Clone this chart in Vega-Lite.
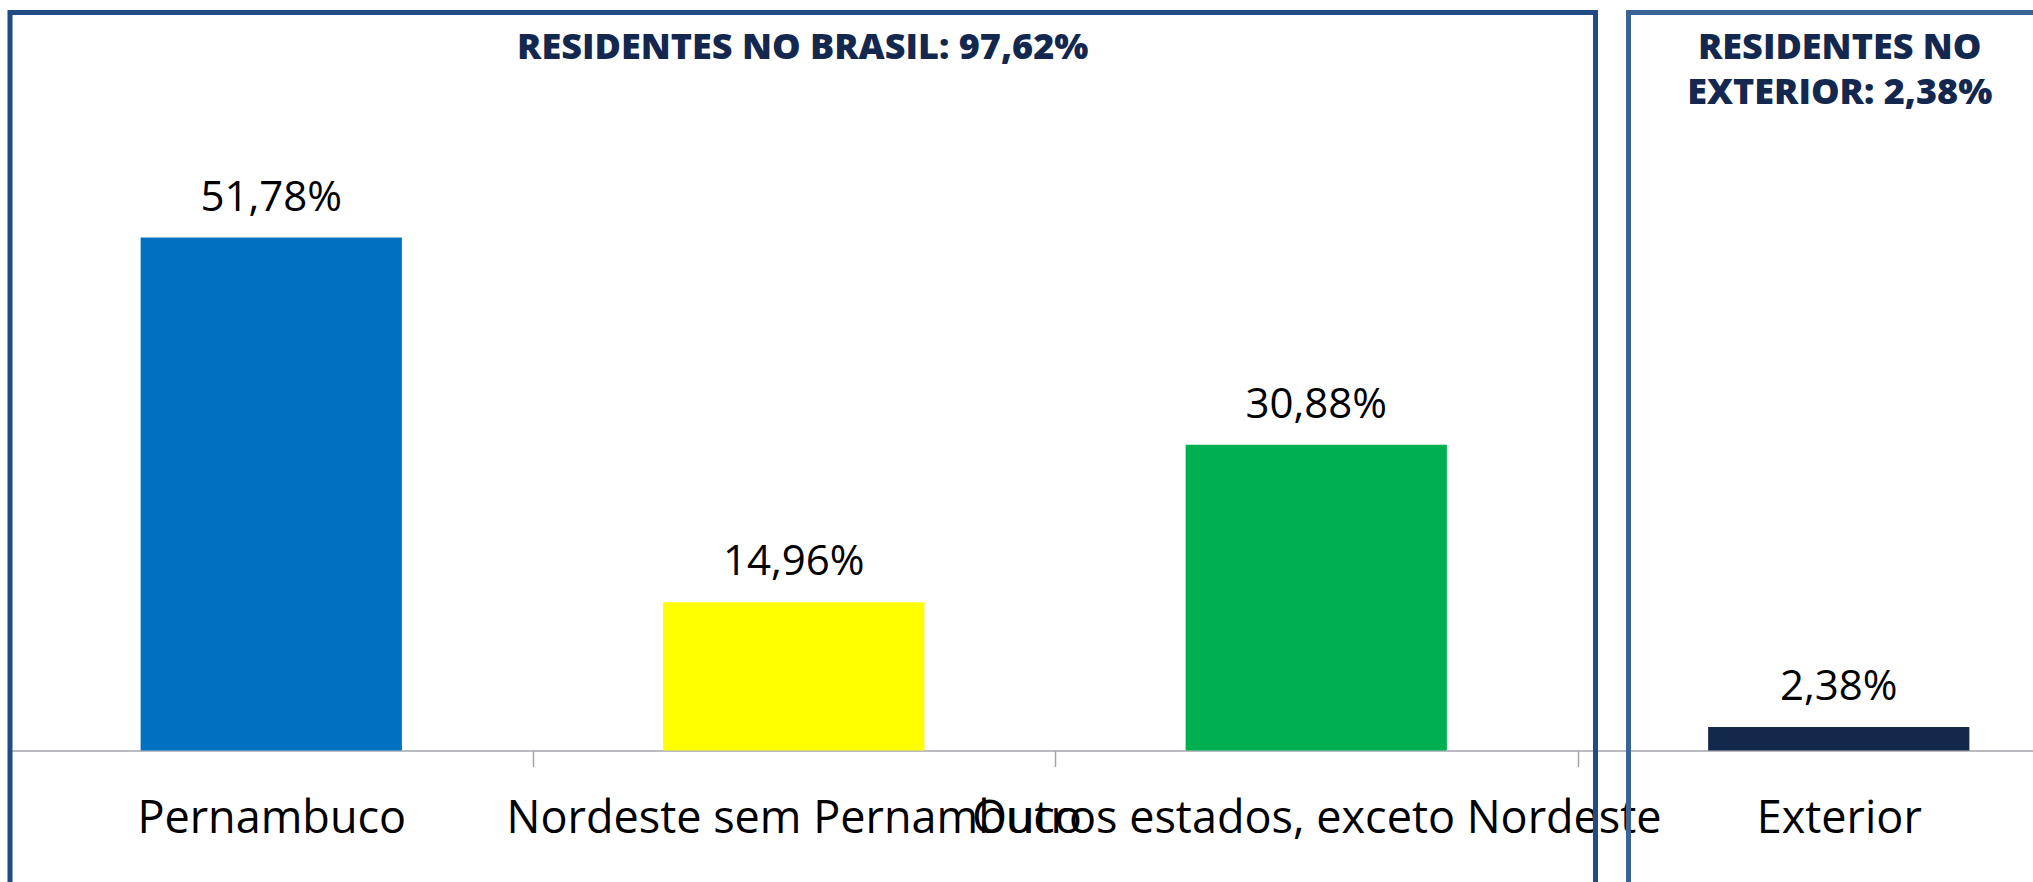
{
  "$schema": "https://vega.github.io/schema/vega-lite/v6.json",
  "width": 2023,
  "height": 740.5,
  "autosize": {"type": "none"},
  "padding": {"left": 10, "top": 10, "right": 0, "bottom": 131.5},
  "background": "white",
  "config": {"view": {"stroke": null}},
  "datasets": {
    "barras": [
      {"regiao": "Pernambuco", "pct": 51.78, "rotulo": "51,78%", "cor": "#0070C0"},
      {"regiao": "Nordeste sem Pernambuco", "pct": 14.96, "rotulo": "14,96%", "cor": "#FFFF00"},
      {"regiao": "Outros estados, exceto Nordeste", "pct": 30.88, "rotulo": "30,88%", "cor": "#00B050"},
      {"regiao": "Exterior", "pct": 2.38, "rotulo": "2,38%", "cor": "#14284B"}
    ],
    "grupos": [
      {"grupo": "Brasil", "inicio": "Pernambuco", "fim": "Outros estados, exceto Nordeste", "centro": "Nordeste sem Pernambuco", "titulo": "RESIDENTES NO BRASIL: 97,62%"},
      {"grupo": "Exterior", "inicio": "Exterior", "fim": "Exterior", "centro": "Exterior", "titulo": "RESIDENTES NO\nEXTERIOR: 2,38%"}
    ]
  },
  "layer": [
    {
      "data": {"name": "barras"},
      "mark": {"type": "bar", "width": {"band": 0.5}},
      "encoding": {
        "x": {
          "field": "regiao", "type": "nominal", "sort": null,
          "scale": {"domain": ["Pernambuco", "Nordeste sem Pernambuco", "Outros estados, exceto Nordeste", "Exterior"], "range": [0, 2090], "paddingInner": 0, "paddingOuter": 0},
          "axis": {
            "title": null, "domain": true, "domainColor": "#A4A6AE", "domainWidth": 1.5,
            "ticks": true, "tickBand": "extent", "tickSize": 16, "tickColor": "#A4A6AE", "tickWidth": 1.5,
            "labelFont": "Open Sans", "labelFontSize": 45, "labelColor": "#000000",
            "labelBaseline": "alphabetic", "labelPadding": 66, "labelAngle": 0,
            "labelOverlap": false, "labelLimit": 2000, "grid": false
          }
        },
        "y": {
          "field": "pct", "type": "quantitative",
          "scale": {"domain": [0, 74.76], "nice": false},
          "axis": null
        },
        "color": {"field": "cor", "type": "nominal", "scale": null, "legend": null}
      }
    },
    {
      "data": {"name": "barras"},
      "mark": {"type": "text", "baseline": "alphabetic", "align": "center", "dy": -27, "font": "Open Sans", "fontSize": 42, "color": "#000000"},
      "encoding": {
        "x": {"field": "regiao", "type": "nominal", "sort": null},
        "y": {"field": "pct", "type": "quantitative"},
        "text": {"field": "rotulo", "type": "nominal"}
      }
    },
    {
      "data": {"name": "grupos"},
      "transform": [{"filter": "datum.grupo === 'Brasil'"}],
      "mark": {"type": "rect", "fill": null, "filled": false, "stroke": "#224A85", "strokeWidth": 5, "x2Offset": 18, "clip": false},
      "encoding": {
        "x": {"field": "inicio", "type": "nominal", "bandPosition": 0, "sort": null},
        "x2": {"field": "fim", "bandPosition": 1},
        "y": {"datum": 74.51, "type": "quantitative"},
        "y2": {"datum": -16}
      }
    },
    {
      "data": {"name": "grupos"},
      "transform": [{"filter": "datum.grupo === 'Exterior'"}],
      "mark": {"type": "rect", "fill": null, "filled": false, "stroke": "#3A6496", "strokeWidth": 5, "xOffset": 51, "x2Offset": 60, "clip": false},
      "encoding": {
        "x": {"field": "inicio", "type": "nominal", "bandPosition": 0, "sort": null},
        "x2": {"field": "fim", "bandPosition": 1},
        "y": {"datum": 74.51, "type": "quantitative"},
        "y2": {"datum": -16}
      }
    },
    {
      "data": {"name": "grupos"},
      "transform": [{"filter": "datum.grupo === 'Brasil'"}],
      "mark": {"type": "text", "align": "center", "baseline": "alphabetic", "font": "Open Sans", "fontWeight": 800, "fontSize": 36, "color": "#14284F", "xOffset": 9, "lineBreak": "\n", "lineHeight": 45},
      "encoding": {
        "x": {"field": "centro", "type": "nominal", "sort": null},
        "y": {"datum": 69.8, "type": "quantitative"},
        "text": {"field": "titulo", "type": "nominal"}
      }
    },
    {
      "data": {"name": "grupos"},
      "transform": [{"filter": "datum.grupo === 'Exterior'"}],
      "mark": {"type": "text", "align": "center", "baseline": "alphabetic", "font": "Open Sans", "fontWeight": 800, "fontSize": 36, "color": "#14284F", "xOffset": 1, "lineBreak": "\n", "lineHeight": 45},
      "encoding": {
        "x": {"field": "centro", "type": "nominal", "sort": null},
        "y": {"datum": 69.8, "type": "quantitative"},
        "text": {"field": "titulo", "type": "nominal"}
      }
    }
  ]
}
